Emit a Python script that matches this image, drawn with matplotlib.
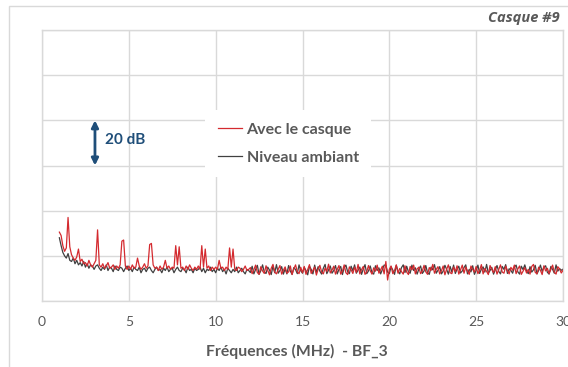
"""Spectre BF_3 : casque #9 vs niveau ambiant."""
import numpy as np
import matplotlib
matplotlib.use("Agg")
import matplotlib.pyplot as plt
from matplotlib.patches import Rectangle

plt.rcParams["font.family"] = ["Lato", "DejaVu Sans"]

# frequency grid (MHz), 0.1 MHz steps from 1 to 30
freq = np.round(np.arange(1.0, 30.05, 0.1), 1)

# "Avec le casque" level, dB (relative)
avec_casque = [
    30.5, 29.0, 24.5, 22.0, 23.5, 37.0, 24.0, 20.5, 19.0, 18.0,
    19.5, 23.0, 17.5, 18.5, 16.5, 17.0, 15.5, 18.0, 16.0, 15.0,
    16.5, 18.0, 31.5, 16.0, 15.0, 16.5, 14.5, 15.5, 17.0, 14.5,
    15.0, 16.0, 14.0, 15.5, 14.5, 16.0, 26.5, 27.0, 15.5, 14.0,
    15.5, 14.0, 16.0, 14.5, 15.0, 19.0, 15.5, 14.0, 15.0, 16.5,
    14.5, 15.5, 25.0, 25.5, 16.0, 14.5, 15.0, 13.5, 15.5, 14.0,
    15.0, 18.0, 14.5, 15.5, 14.0, 15.0, 14.5, 24.5, 16.0, 24.0,
    14.5, 15.0, 13.5, 15.5, 14.0, 16.0, 14.5, 13.5, 15.0, 14.0,
    15.5, 14.0, 24.5, 15.0, 23.0, 14.5, 15.5, 13.5, 15.0, 14.0,
    15.0, 14.0, 18.0, 14.5, 15.0, 13.5, 15.0, 14.0, 23.5, 15.0,
    23.0, 14.0, 13.5, 15.0, 14.5, 13.0, 14.0, 15.5, 13.5, 14.0,
    14.8, 12.1, 13.9, 15.9, 12.6, 11.8, 15.2, 13.3, 12.2, 15.6,
    13.5, 11.6, 14.5, 16.2, 12.8, 12.0, 14.0, 15.7, 11.9, 13.6,
    15.1, 12.3, 12.9, 15.5, 11.7, 14.2, 16.0, 13.0, 12.1, 14.9,
    12.5, 15.3, 11.8, 13.9, 16.1, 12.2, 13.6, 15.0, 11.5, 14.1,
    15.8, 12.9, 12.0, 14.6, 13.1, 16.3, 12.4, 13.7, 15.4, 11.9,
    14.0, 15.7, 11.9, 13.2, 16.0, 12.5, 11.7, 15.1, 13.8, 12.2,
    15.0, 12.7, 16.2, 12.0, 13.9, 15.3, 11.8, 13.0, 15.7, 13.4,
    11.9, 14.7, 13.2, 15.9, 12.3, 13.8, 15.4, 12.0, 17.5, 9.3,
    14.0, 15.5, 12.1, 13.5, 16.0, 12.3, 14.4, 13.0, 11.9, 15.6,
    12.8, 11.7, 15.3, 13.8, 15.9, 12.0, 14.2, 15.0, 12.1, 13.3,
    15.8, 12.9, 11.8, 14.8, 13.5, 16.2, 12.3, 14.0, 15.2, 12.0,
    13.4, 15.5, 11.6, 14.1, 16.0, 12.5, 12.1, 15.0, 13.1, 15.6,
    11.9, 13.8, 15.9, 12.3, 15.0, 13.3, 11.8, 15.5, 14.0, 12.8,
    15.3, 12.1, 13.6, 16.1, 12.0, 14.4, 13.1, 11.7, 15.7, 13.9,
    12.6, 15.2, 11.9, 14.0, 16.0, 12.8, 12.3, 15.4, 13.5, 12.0,
    14.9, 13.6, 15.9, 12.1, 14.2, 15.5, 11.8, 13.2, 14.8, 12.4,
    14.0, 11.9, 15.3, 16.2, 12.7, 12.0, 15.0, 13.6, 11.7, 15.6,
    13.3, 14.5, 12.1, 13.9, 15.9, 12.8, 11.9, 15.2, 14.2, 12.4,
    13.6,
]

# "Niveau ambiant" level, dB
ambiant = [
    28.0, 24.5, 21.5, 20.0, 19.0, 21.0, 18.0, 17.5, 19.0, 16.5,
    18.0, 16.0, 17.0, 15.5, 17.5, 15.0, 16.5, 14.5, 16.0, 15.5,
    14.0, 15.5, 16.0, 14.5, 13.5, 15.0, 14.0, 16.0, 13.5, 15.0,
    14.5, 13.0, 15.5, 14.0, 13.5, 15.0, 14.5, 13.0, 14.5, 15.5,
    13.5, 14.5, 13.0, 15.0, 14.0, 13.5, 15.0, 12.5, 14.0, 14.5,
    13.0, 14.5, 15.0, 13.5, 12.5, 14.0, 15.0, 13.5, 14.0, 12.5,
    14.5, 13.5, 15.0, 13.0, 14.0, 14.5, 12.5, 14.0, 15.0, 13.5,
    13.0, 14.5, 14.0, 12.5, 15.0, 13.5, 14.0, 12.5, 14.5, 13.5,
    14.0, 15.0, 13.0, 14.5, 12.5, 14.0, 13.5, 15.0, 13.0, 14.0,
    12.5, 14.5, 13.5, 15.0, 13.0, 14.0, 12.0, 14.5, 13.5, 12.5,
    14.0, 13.0, 15.0, 12.5, 13.5, 14.5, 13.0, 12.0, 14.0, 13.5,
    12.6, 15.4, 12.0, 14.0, 15.8, 11.8, 13.4, 16.0, 12.8, 12.2,
    15.0, 13.7, 11.7, 15.5, 12.5, 16.1, 12.3, 13.5, 15.2, 11.9,
    14.2, 12.0, 15.7, 13.2, 11.8, 14.8, 13.9, 12.1, 16.0, 13.4,
    12.3, 14.9, 13.5, 11.6, 15.4, 14.0, 12.0, 15.9, 12.7, 15.2,
    13.2, 11.9, 14.5, 16.2, 12.1, 13.7, 15.5, 12.3, 13.5, 15.7,
    12.0, 14.0, 15.3, 11.7, 14.8, 15.9, 12.9, 12.1, 15.4, 13.4,
    16.0, 12.3, 13.7, 15.0, 11.8, 14.2, 16.1, 12.1, 13.3, 15.5,
    12.6, 11.9, 15.6, 13.5, 14.7, 12.0, 14.0, 15.9, 15.8, 12.8,
    12.1, 15.2, 13.7, 11.8, 15.8, 13.2, 12.0, 14.8, 16.0, 12.6,
    15.4, 12.9, 12.3, 15.9, 13.5, 14.7, 11.9, 14.1, 15.5, 12.2,
    13.3, 15.7, 12.5, 11.8, 15.0, 13.8, 16.1, 12.3, 13.6, 15.2,
    12.0, 13.2, 15.8, 14.0, 11.9, 15.3, 12.8, 15.9, 12.2, 14.1,
    15.4, 12.4, 13.3, 14.8, 16.0, 12.0, 14.0, 12.9, 15.6, 11.8,
    13.6, 15.9, 12.2, 14.1, 15.1, 12.8, 16.2, 12.3, 13.5, 14.9,
    11.9, 13.8, 15.7, 13.1, 12.0, 15.3, 14.0, 16.1, 12.2, 14.3,
    13.5, 12.3, 15.0, 15.9, 12.9, 11.9, 15.4, 13.9, 16.0, 13.3,
    12.1, 15.2, 12.8, 13.8, 15.8, 12.0, 13.6, 15.9, 13.1, 14.9,
    15.6, 12.7, 11.9, 15.3, 14.0, 12.3, 16.0, 13.2, 14.4, 13.6,
    14.1,
]

x_ticks = [0, 5, 10, 15, 20, 25, 30]

GRID = "#d9d9d9"
TXT = "#595959"
BLUE = "#1f4e79"

W, H = 568, 367
fig = plt.figure(figsize=(W / 100, H / 100), dpi=100, facecolor="white")
ax = fig.add_axes([42 / W, 1 - 301 / H, (563 - 42) / W, (301 - 30) / H])

# outer chart frame
fig.patches.append(Rectangle((9 / W, -0.1), 1.2, 1 - 6 / H + 0.1, transform=fig.transFigure,
                             fill=False, edgecolor=GRID, lw=1))

ax.plot(freq, avec_casque, color="#d42a2f", lw=0.9, label="Avec le casque", zorder=3)
ax.plot(freq, ambiant, color="#404040", lw=0.9, label="Niveau ambiant", zorder=2)

ax.set_xlim(0, 30)
ax.set_ylim(0, 120)
ax.set_xticks(x_ticks)
ax.set_yticks(np.arange(0, 121, 20))
ax.set_yticklabels([])
ax.grid(True, color=GRID, lw=1)
ax.set_axisbelow(True)
ax.tick_params(length=0, pad=11, labelsize=10, labelcolor=TXT)
for s in ax.spines.values():
    s.set_color(GRID)
    s.set_linewidth(1)

leg = ax.legend(loc="upper left", bbox_to_anchor=((205 - 42) / 521, (301 - 110) / 271),
                borderaxespad=0, frameon=True, fancybox=False, edgecolor="none",
                facecolor="white", framealpha=1, fontsize=11.5, handlelength=1.5,
                handletextpad=0.3, labelspacing=0.85, borderpad=0.8)
for t in leg.get_texts():
    t.set_color(TXT)
    t.set_fontweight("bold")
leg.set_zorder(5)

# 20 dB scale marker
ax.annotate("", xy=(3.05, 80), xytext=(3.05, 60),
            arrowprops=dict(arrowstyle="<|-|>", color=BLUE, lw=2, mutation_scale=10,
                            shrinkA=0, shrinkB=0))
ax.text(3.6, 71.5, "20 dB", color=BLUE, fontsize=11, fontweight="bold", va="center")

fig.text(560 / W, 1 - 18 / H, "Casque #9", ha="right", va="center", color=TXT,
         fontsize=10.5, fontweight="bold", style="italic", family=["Open Sans", "DejaVu Sans"])
fig.text(297 / W, 1 - 351 / H, "Fréquences (MHz)  - BF_3", ha="center", va="center",
         color=TXT, fontsize=11.3, fontweight="bold")

fig.savefig("out.png", dpi=100, facecolor="white")
